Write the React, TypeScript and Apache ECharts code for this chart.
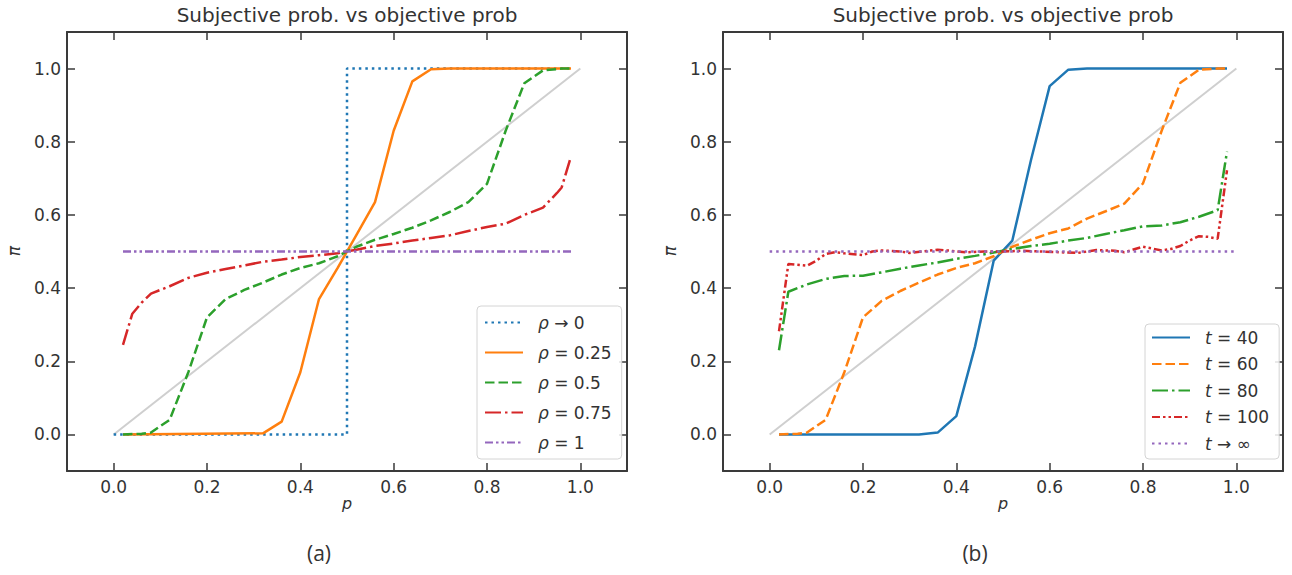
import React, { useEffect, useRef } from "react";
import * as echarts from "echarts";

// ---------- tick values ----------
const TICKS = [0, 0.2, 0.4, 0.6, 0.8, 1.0];

// ---------- panel (a): rho ----------
const rho0P = [0, 0.5, 0.5, 0.98];
const rho0Pi = [0, 0, 1, 1];

const rho025P = [0.02, 0.32, 0.36, 0.4, 0.44, 0.48, 0.52, 0.56, 0.6, 0.64, 0.68, 0.72, 0.98];
const rho025Pi = [0, 0.003, 0.035, 0.17, 0.37, 0.455, 0.545, 0.635, 0.83, 0.965, 0.998, 1.0, 1.0];

const rho05P = [0.02, 0.06, 0.08, 0.12, 0.16, 0.2, 0.24, 0.28, 0.32, 0.36, 0.4, 0.44, 0.48, 0.52, 0.56, 0.6, 0.64, 0.68, 0.72, 0.76, 0.8, 0.84, 0.88, 0.92, 0.96, 0.98];
const rho05Pi = [0, 0.002, 0.005, 0.04, 0.17, 0.32, 0.37, 0.395, 0.415, 0.437, 0.455, 0.468, 0.487, 0.513, 0.532, 0.548, 0.565, 0.585, 0.608, 0.635, 0.685, 0.83, 0.96, 0.995, 1.0, 1.0];

const rho075P = [0.02, 0.04, 0.06, 0.08, 0.1, 0.12, 0.16, 0.2, 0.24, 0.28, 0.32, 0.36, 0.4, 0.44, 0.48, 0.52, 0.56, 0.6, 0.64, 0.68, 0.72, 0.76, 0.8, 0.84, 0.88, 0.92, 0.95, 0.96, 0.98];
const rho075Pi = [0.245, 0.33, 0.36, 0.385, 0.395, 0.405, 0.428, 0.442, 0.452, 0.462, 0.472, 0.478, 0.485, 0.49, 0.495, 0.505, 0.515, 0.522, 0.53, 0.537, 0.544, 0.556, 0.567, 0.576, 0.6, 0.62, 0.66, 0.675, 0.76];

const rho1P = [0.02, 0.98];
const rho1Pi = [0.5, 0.5];

// ---------- panel (b): t ----------
const t40P = [0.02, 0.32, 0.36, 0.4, 0.44, 0.48, 0.52, 0.56, 0.6, 0.64, 0.68, 0.98];
const t40Pi = [0, 0, 0.005, 0.05, 0.24, 0.475, 0.53, 0.75, 0.952, 0.997, 1.0, 1.0];

const t60P = [0.02, 0.06, 0.08, 0.12, 0.16, 0.2, 0.24, 0.28, 0.32, 0.36, 0.4, 0.44, 0.48, 0.52, 0.56, 0.6, 0.64, 0.68, 0.72, 0.76, 0.8, 0.84, 0.88, 0.92, 0.96, 0.98];
const t60Pi = [0, 0.002, 0.005, 0.04, 0.17, 0.32, 0.365, 0.392, 0.415, 0.437, 0.455, 0.468, 0.487, 0.513, 0.532, 0.55, 0.563, 0.59, 0.61, 0.631, 0.686, 0.83, 0.961, 0.997, 1.0, 1.0];

const t80P = [0.02, 0.04, 0.08, 0.12, 0.16, 0.2, 0.24, 0.28, 0.32, 0.36, 0.4, 0.44, 0.48, 0.52, 0.56, 0.6, 0.64, 0.68, 0.72, 0.76, 0.8, 0.84, 0.88, 0.92, 0.96, 0.98];
const t80Pi = [0.23, 0.39, 0.41, 0.425, 0.433, 0.434, 0.443, 0.453, 0.462, 0.47, 0.48, 0.488, 0.497, 0.507, 0.515, 0.521, 0.53, 0.537, 0.548, 0.558, 0.569, 0.571, 0.58, 0.595, 0.613, 0.773];

const t100P = [0.02, 0.04, 0.08, 0.1, 0.12, 0.14, 0.16, 0.2, 0.22, 0.24, 0.28, 0.3, 0.34, 0.36, 0.38, 0.42, 0.46, 0.5, 0.54, 0.58, 0.62, 0.66, 0.7, 0.74, 0.76, 0.8, 0.84, 0.86, 0.88, 0.9, 0.92, 0.94, 0.96, 0.98];
const t100Pi = [0.282, 0.466, 0.461, 0.475, 0.493, 0.498, 0.495, 0.49, 0.5, 0.503, 0.5, 0.496, 0.502, 0.505, 0.503, 0.498, 0.5, 0.5, 0.502, 0.5, 0.498, 0.496, 0.504, 0.502, 0.498, 0.513, 0.503, 0.507, 0.515, 0.53, 0.542, 0.54, 0.535, 0.722];

const tInfP = [0, 1];
const tInfPi = [0.5, 0.5];

// ---------- reference diagonal ----------
const diagP = [0, 1];
const diagPi = [0, 1];

// ---------- names ----------
const namesA = ["ρ → 0", "ρ = 0.25", "ρ = 0.5", "ρ = 0.75", "ρ = 1"];
const namesB = ["t = 40", "t = 60", "t = 80", "t = 100", "t → ∞"];
const TITLE = "Subjective prob. vs objective prob";

const FONT = "'DejaVu Sans', sans-serif";
const INK = "#333333";
const FRAME = "#3a3a3a";
const C = { blue: "#1f77b4", orange: "#ff7f0e", green: "#2ca02c", red: "#d62728", purple: "#9467bd" };

const DOT = [2.5, 4];
const DASH = [9.5, 4];
const DASHDOT = [16, 4, 2.5, 4];
const DASHDOTDOT = [8, 3, 2.5, 3, 2.5, 3];

const zip = (xs: number[], ys: number[]) => xs.map((x, i) => [x, ys[i]]);

function line(name: string, p: number[], pi: number[], color: string, dash: any, panel: number, width = 2.5, z = 3) {
  return {
    type: "line",
    name,
    data: zip(p, pi),
    xAxisIndex: panel * 2,
    yAxisIndex: panel * 2,
    symbol: "none",
    showSymbol: false,
    silent: true,
    z,
    lineStyle: { color, width, type: dash, cap: "butt" },
    itemStyle: { color },
    emphasis: { disabled: true },
  };
}

function xAxes(gridIndex: number) {
  const base: any = {
    type: "value",
    gridIndex,
    min: -0.1,
    max: 1.1,
    splitLine: { show: false },
    axisLine: { show: true, onZero: false, lineStyle: { color: FRAME, width: 2 } },
    axisTick: { show: true, inside: true, length: 8, customValues: TICKS, lineStyle: { color: FRAME, width: 1.5 } },
  };
  return [
    {
      ...base,
      position: "bottom",
      axisLabel: { show: true, customValues: TICKS, formatter: (v: number) => v.toFixed(1), margin: 7, color: INK, fontSize: 17, fontFamily: FONT },
    },
    { ...base, position: "top", axisLabel: { show: false } },
  ];
}

function yAxes(gridIndex: number) {
  const base: any = {
    type: "value",
    gridIndex,
    min: -0.1,
    max: 1.1,
    splitLine: { show: false },
    axisLine: { show: true, onZero: false, lineStyle: { color: FRAME, width: 2 } },
    axisTick: { show: true, inside: true, length: 8, customValues: TICKS, lineStyle: { color: FRAME, width: 1.5 } },
  };
  return [
    {
      ...base,
      position: "left",
      axisLabel: { show: true, customValues: TICKS, formatter: (v: number) => v.toFixed(1), margin: 6, color: INK, fontSize: 17, fontFamily: FONT },
    },
    { ...base, position: "right", axisLabel: { show: false } },
  ];
}

function legend(data: string[], left: number, top: number, itemGap: number, padding: number[]) {
  return {
    data,
    orient: "vertical",
    left,
    top,
    itemWidth: 38,
    itemHeight: 14,
    itemGap,
    padding,
    selectedMode: false,
    backgroundColor: "rgba(255,255,255,0.85)",
    borderColor: "#d4d4d4",
    borderWidth: 1,
    borderRadius: 4,
    itemStyle: { opacity: 0 },
    formatter: (name: string) => `{i|${name[0]}}{n|${name.slice(1)}}`,
    textStyle: {
      padding: [0, 0, 0, 10],
      rich: {
        i: { fontFamily: FONT, fontSize: 17, fontStyle: "italic", color: INK, lineHeight: 20 },
        n: { fontFamily: FONT, fontSize: 17, color: INK, lineHeight: 20 },
      },
    },
  };
}

function txt(text: string, x: number, y: number, opts: any = {}) {
  return {
    type: "text",
    x,
    y,
    rotation: opts.rotation || 0,
    silent: true,
    style: {
      text,
      fill: INK,
      fontFamily: opts.fontFamily || FONT,
      fontSize: opts.fontSize || 17,
      fontStyle: opts.fontStyle || "normal",
      align: "center",
      verticalAlign: "middle",
    },
  };
}

export default function App() {
  const ref = useRef<HTMLDivElement>(null);
  useEffect(() => {
    if (!ref.current) return;
    const chart = echarts.init(ref.current, undefined, { renderer: "svg" });
    chart.setOption({
      animation: false,
      backgroundColor: "#ffffff",
      grid: [
        { left: 67, top: 32, width: 560, height: 439, containLabel: false },
        { left: 723, top: 32, width: 560, height: 439, containLabel: false },
      ],
      xAxis: [...xAxes(0), ...xAxes(1)],
      yAxis: [...yAxes(0), ...yAxes(1)],
      legend: [
        legend(namesA, 477, 306, 13, [8, 10, 8, 7]),
        legend(namesB, 1145, 324, 9.5, [5, 10, 7, 6]),
      ],
      series: [
        line("diagA", diagP, diagPi, "#cfcfcf", "solid", 0, 2, 2),
        line(namesA[0], rho0P, rho0Pi, C.blue, DOT, 0),
        line(namesA[1], rho025P, rho025Pi, C.orange, "solid", 0),
        line(namesA[2], rho05P, rho05Pi, C.green, DASH, 0),
        line(namesA[3], rho075P, rho075Pi, C.red, DASHDOT, 0),
        line(namesA[4], rho1P, rho1Pi, C.purple, DASHDOTDOT, 0),
        line("diagB", diagP, diagPi, "#cfcfcf", "solid", 1, 2, 2),
        line(namesB[0], t40P, t40Pi, C.blue, "solid", 1),
        line(namesB[1], t60P, t60Pi, C.orange, DASH, 1),
        line(namesB[2], t80P, t80Pi, C.green, DASHDOT, 1),
        line(namesB[3], t100P, t100Pi, C.red, DASHDOTDOT, 1),
        line(namesB[4], tInfP, tInfPi, C.purple, DOT, 1),
      ],
      graphic: [
        txt(TITLE, 347, 15, { fontSize: 20 }),
        txt(TITLE, 1003, 15, { fontSize: 20 }),
        txt("p", 347, 503, { fontSize: 16, fontStyle: "italic" }),
        txt("p", 1003, 503, { fontSize: 16, fontStyle: "italic" }),
        txt("π", 14, 251, { fontSize: 17, fontStyle: "italic", rotation: Math.PI / 2 }),
        txt("π", 670, 251, { fontSize: 17, fontStyle: "italic", rotation: Math.PI / 2 }),
        txt("(a)", 319, 553, { fontSize: 21, fontFamily: "'Open Sans', sans-serif" }),
        txt("(b)", 975, 553, { fontSize: 21, fontFamily: "'Open Sans', sans-serif" }),
      ],
    });
    return () => chart.dispose();
  }, []);
  return <div ref={ref} style={{ position: "absolute", left: 0, top: 0, width: 1292, height: 575 }} />;
}
